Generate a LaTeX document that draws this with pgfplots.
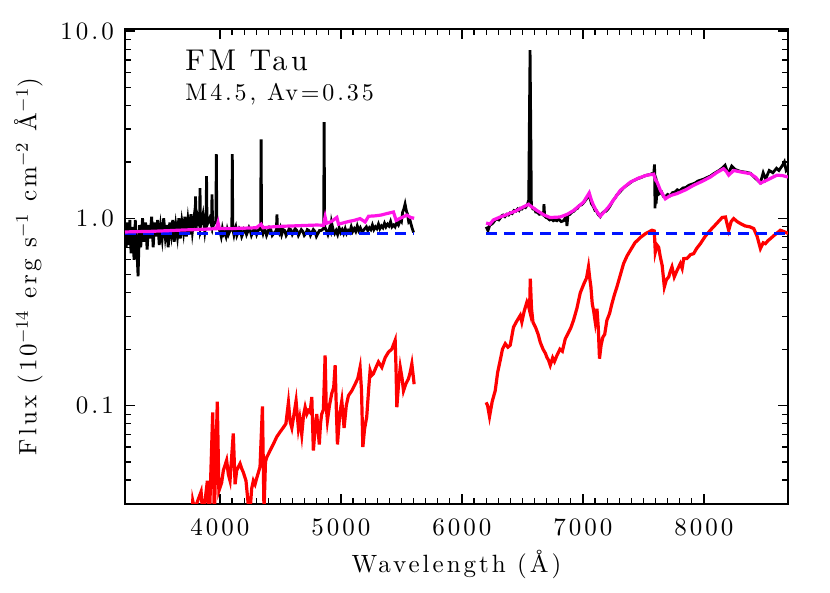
\documentclass[border=0pt]{standalone}
\usepackage{fontspec}
\setmainfont{lmroman10-regular.otf}[LetterSpace=12, BoldFont=lmroman10-bold.otf, ItalicFont=lmroman10-italic.otf]
\usepackage{pgfplots}
\pgfplotsset{compat=1.18}
\definecolor{mymag}{RGB}{255,20,230}
\definecolor{myblue}{RGB}{0,20,255}
\begin{document}
\begin{tikzpicture}
\begin{axis}[
  name=ax, scale only axis, width=331.5pt, height=237.5pt,
  xmin=3215, xmax=8695, ymode=log, ymin=0.0298, ymax=10.25,
  axis line style={line width=0.7pt}, every tick/.style={black, line width=0.6pt},
  tick align=inside, major tick length=5pt, minor tick length=3pt,
  xtick={4000,5000,6000,7000,8000}, xticklabels={4000,5000,6000,7000,8000},
  minor x tick num=9,
  ytick={0.1,1,10}, yticklabels={0.1,1.0,10.0},
  minor ytick={0.03,0.04,0.05,0.06,0.07,0.08,0.09,0.2,0.3,0.4,0.5,0.6,0.7,0.8,0.9,2,3,4,5,6,7,8,9},
  ticklabel style={font=\fontsize{12.5}{15}\selectfont},
  xticklabel style={yshift=-4pt},
  yticklabel style={xshift=-2pt},
  xlabel={Wavelength (Å)}, ylabel={Flux (10$^{-14}$ erg s$^{-1}$ cm$^{-2}$ Å$^{-1}$)},
  label style={font=\fontsize{12.5}{15}\selectfont},
  xlabel style={yshift=0pt},
  ylabel style={yshift=2pt},
]
% red photosphere, left
\addplot[red, line width=1.6pt] coordinates {
(3760,0.02) (3775,0.031) (3790,0.028) (3808,0.030) (3844,0.0347) (3860,0.025) (3896,0.0397) (3913,0.025)
(3940,0.092) (3953,0.025) (3978,0.105) (3991,0.035) (4014,0.0388) (4028,0.045) (4042,0.048) (4055,0.051)
(4069,0.043) (4083,0.0397) (4110,0.071) (4125,0.038) (4138,0.045) (4152,0.047) (4166,0.049) (4180,0.046) (4193,0.044)
(4215,0.0397) (4235,0.029) (4248,0.027) (4262,0.036) (4276,0.0397) (4290,0.038) (4304,0.041) (4318,0.044) (4331,0.047)
(4351,0.099) (4364,0.027) (4376,0.050) (4387,0.053) (4400,0.055) (4414,0.0575) (4440,0.062) (4469,0.068) (4495,0.072)
(4524,0.0764) (4545,0.080) (4566,0.104) (4580,0.082) (4594,0.076) (4606,0.085) (4629,0.106) (4648,0.076)
(4660,0.085) (4676,0.070) (4690,0.088) (4704,0.098) (4718,0.090) (4731,0.094) (4745,0.092) (4759,0.111)
(4772,0.0575) (4786,0.075) (4800,0.090) (4810,0.075) (4821,0.062) (4831,0.080) (4841,0.090) (4855,0.095)
(4869,0.185) (4878,0.100) (4888,0.083) (4905,0.100) (4924,0.116) (4940,0.125) (4952,0.164) (4961,0.100)
(4971,0.062) (4990,0.090) (5007,0.106) (5016,0.090) (5026,0.076) (5044,0.100) (5062,0.113) (5090,0.120)
(5117,0.130) (5140,0.140) (5158,0.160) (5170,0.120) (5181,0.060) (5195,0.075) (5213,0.087) (5228,0.120)
(5241,0.154) (5255,0.145) (5268,0.148) (5290,0.160) (5310,0.171) (5325,0.165) (5338,0.160) (5365,0.180)
(5393,0.193) (5420,0.200) (5448,0.223) (5455,0.160) (5462,0.098) (5476,0.130) (5490,0.160) (5505,0.140)
(5517,0.120) (5535,0.130) (5558,0.139) (5572,0.150) (5586,0.167) (5605,0.130)
};
% red photosphere, right
\addplot[red, line width=1.6pt] coordinates {
(6200,0.104) (6212,0.100) (6228,0.0873) (6250,0.105) (6275,0.120) (6295,0.150) (6316,0.174) (6335,0.200)
(6358,0.214) (6380,0.205) (6399,0.210) (6426,0.262) (6450,0.280) (6482,0.303) (6495,0.279) (6515,0.320)
(6537,0.357) (6550,0.340) (6559,0.322) (6565,0.476) (6575,0.330) (6587,0.279) (6610,0.260) (6630,0.240)
(6647,0.218) (6670,0.200) (6690,0.190) (6702,0.181) (6715,0.175) (6730,0.164) (6750,0.180) (6765,0.172)
(6785,0.185) (6810,0.200) (6830,0.195) (6854,0.227) (6880,0.245) (6900,0.260) (6922,0.285) (6950,0.330)
(6978,0.400) (7010,0.450) (7030,0.480) (7046,0.550) (7056,0.480) (7066,0.430) (7077,0.350) (7088,0.322)
(7102,0.279) (7116,0.329) (7127,0.260) (7137,0.178) (7150,0.210) (7165,0.232) (7180,0.240) (7198,0.285)
(7220,0.310) (7240,0.350) (7260,0.390) (7281,0.430) (7310,0.500) (7336,0.573) (7365,0.630) (7392,0.674)
(7430,0.740) (7475,0.790) (7520,0.830) (7571,0.863) (7590,0.855) (7598,0.660) (7612,0.720) (7626,0.700)
(7640,0.620) (7655,0.560) (7673,0.430) (7690,0.470) (7709,0.486) (7722,0.520) (7736,0.550) (7755,0.486)
(7780,0.530) (7805,0.573) (7820,0.540) (7833,0.609) (7860,0.610) (7890,0.640) (7915,0.647) (7940,0.690)
(7971,0.732) (8010,0.800) (8053,0.863) (8100,0.930) (8151,1.010) (8178,1.016) (8192,0.930) (8205,0.863)
(8225,0.960) (8246,0.996) (8275,0.960) (8302,0.937) (8340,0.910) (8380,0.900) (8412,0.881) (8440,0.800)
(8467,0.689) (8490,0.740) (8508,0.732) (8530,0.760) (8550,0.779) (8580,0.810) (8610,0.840) (8632,0.863)
(8660,0.850) (8695,0.830)
};
% observed spectrum, left
\addplot[black, line width=1.4pt] coordinates {
(3215,0.80) (3225,0.70) (3235,0.95) (3245,0.72) (3255,0.98) (3265,0.65) (3275,0.90) (3290,0.60) (3300,0.98)
(3310,0.75) (3323,0.49) (3335,0.92) (3345,0.70) (3360,1.00) (3372,0.75) (3385,0.95) (3398,0.68) (3410,0.92)
(3422,0.78) (3435,1.02) (3448,0.70) (3460,0.95) (3472,0.80) (3485,0.98) (3498,0.72) (3510,0.90) (3522,0.78)
(3535,1.00) (3548,0.80) (3560,0.92) (3572,0.70) (3585,0.95) (3598,0.82) (3610,0.98) (3622,0.75) (3635,0.92)
(3648,0.80) (3660,1.00) (3672,0.78) (3685,0.96) (3698,0.84) (3710,1.02) (3722,0.80) (3735,0.98) (3748,0.82)
(3760,1.05) (3772,0.85) (3785,1.00) (3794,0.90) (3798,1.31) (3802,0.88) (3815,1.02) (3831,0.92) (3835,1.45)
(3839,0.90) (3860,1.05) (3875,0.85) (3885,0.95) (3889,1.68) (3893,0.92) (3915,1.00) (3930,0.92) (3934,1.34)
(3940,0.90) (3955,0.95) (3966,0.95) (3970,2.2) (3974,0.95) (3985,0.90) (4000,0.85) (4010,0.80) (4020,0.88) (4030,0.82) (4040,0.84)
(4050,0.80) (4060,0.87) (4070,0.82) (4080,0.85) (4098,0.88) (4102,2.2) (4106,0.88) (4115,0.82) (4122,0.87) (4130,0.90) (4140,0.81) (4150,0.84) (4160,0.88) (4170,0.86)
(4180,0.80) (4190,0.83) (4200,0.88) (4210,0.87) (4220,0.82) (4230,0.85) (4240,0.89) (4250,0.86) (4260,0.81) (4270,0.84) (4280,0.87) (4290,0.88) (4303,0.82) (4315,0.86) (4336,0.88) (4340,2.64)
(4344,0.88) (4355,0.83) (4365,0.88) (4375,0.86) (4385,0.81) (4395,0.84) (4408,0.89) (4420,0.87) (4432,0.81) (4445,0.83) (4466,0.86) (4471,1.05) (4476,0.86)
(4490,0.83) (4500,0.88) (4510,0.82) (4522,0.87) (4535,0.86) (4547,0.81) (4560,0.84) (4572,0.88) (4585,0.87) (4598,0.82) (4610,0.85) (4622,0.88) (4635,0.86) (4648,0.81) (4660,0.84) (4672,0.87) (4685,0.85)
(4697,0.81) (4710,0.83) (4722,0.87) (4735,0.86) (4748,0.81) (4760,0.84) (4772,0.87) (4785,0.85) (4797,0.80) (4810,0.83) (4822,0.86) (4835,0.86) (4857,0.88) (4861,3.26) (4865,0.90)
(4880,0.86) (4892,0.82) (4905,0.88) (4915,0.85) (4922,0.95) (4935,0.87) (4948,0.83) (4960,0.86) (4972,0.82) (4985,0.89) (4997,0.84) (5010,0.87) (5022,0.83) (5035,0.88) (5047,0.83) (5060,0.86)
(5072,0.84) (5085,0.90) (5097,0.85) (5110,0.88) (5122,0.85) (5135,0.91) (5147,0.86) (5160,0.89) (5172,0.85) (5185,0.86) (5197,0.88) (5210,0.90) (5222,0.86) (5235,0.89) (5247,0.87) (5260,0.92) (5272,0.87) (5285,0.90)
(5297,0.88) (5310,0.93) (5322,0.88) (5335,0.91) (5347,0.89) (5360,0.94) (5372,0.90) (5385,0.93) (5397,0.91) (5410,0.96) (5422,0.90) (5435,0.92) (5447,0.90) (5460,0.95) (5475,0.92) (5490,0.98) (5500,0.96) (5510,1.08)
(5520,1.12) (5530,1.19) (5540,1.10) (5550,1.05) (5560,0.96) (5570,0.98) (5585,0.90) (5600,0.84)
};
% observed spectrum, right
\addplot[black, line width=1.4pt] coordinates {
(6200,0.90) (6215,0.86) (6230,0.92) (6245,0.93) (6260,0.95) (6275,0.98) (6290,0.99) (6305,0.98) (6316,1.00) (6328,1.03) (6340,1.04) (6355,1.02) (6370,1.05) (6385,1.04) (6399,1.07)
(6415,1.06) (6430,1.10) (6445,1.09) (6460,1.12) (6472,1.10) (6482,1.13) (6495,1.12) (6510,1.15) (6525,1.14) (6540,1.18) (6552,1.25) (6558,3.5) (6563,7.9) (6568,3.5)
(6574,1.16) (6587,1.12) (6600,1.12) (6610,1.08) (6620,1.08) (6640,1.05) (6660,1.06) (6674,1.04) (6678,1.19) (6683,1.04) (6695,1.01) (6710,1.00) (6725,0.98) (6740,0.99) (6755,0.97)
(6770,0.98) (6785,0.97) (6800,0.99) (6820,0.96) (6840,0.97) (6852,1.00) (6862,1.02) (6868,0.91) (6876,1.04) (6893,1.05) (6910,1.08) (6925,1.09) (6940,1.12) (6955,1.13) (6970,1.17) (6988,1.18)
(7005,1.21) (7022,1.25) (7040,1.30) (7052,1.33) (7070,1.20) (7088,1.15) (7100,1.10) (7110,1.10) (7125,1.05) (7143,1.02) (7157,1.06) (7170,1.08) (7190,1.09) (7212,1.13) (7230,1.18)
(7250,1.25) (7265,1.28) (7280,1.33) (7295,1.36) (7309,1.39) (7330,1.44) (7350,1.48) (7370,1.51) (7392,1.55) (7410,1.58) (7430,1.60) (7455,1.63) (7480,1.65) (7505,1.68) (7530,1.70) (7550,1.71) (7570,1.73)
(7585,1.72) (7592,1.94) (7596,1.13) (7600,1.50) (7605,1.20) (7615,1.50) (7630,1.35) (7650,1.38) (7665,1.31) (7681,1.30) (7700,1.34) (7720,1.32) (7740,1.37)
(7760,1.38) (7780,1.42) (7800,1.40) (7825,1.45) (7850,1.46) (7875,1.50) (7900,1.52) (7925,1.54) (7950,1.58) (7975,1.60) (8000,1.62) (8025,1.65) (8053,1.68) (8075,1.72) (8100,1.76) (8125,1.80)
(8150,1.85) (8175,1.92) (8190,1.80) (8205,1.75) (8230,1.90) (8260,1.82) (8280,1.80) (8300,1.78) (8325,1.77) (8350,1.76) (8384,1.74) (8400,1.70)
(8420,1.65) (8450,1.58) (8467,1.55) (8490,1.75) (8510,1.62) (8540,1.80) (8570,1.75) (8600,1.85) (8620,1.80)
(8650,1.92) (8665,2.00) (8680,1.80) (8695,1.85)
};
% continuum level
\addplot[myblue, line width=1.5pt, dash pattern=on 5.5pt off 3.5pt] coordinates {(3215,0.834) (5600,0.834)};
\addplot[myblue, line width=1.5pt, dash pattern=on 5.5pt off 3.5pt] coordinates {(6200,0.834) (8695,0.834)};
% model, left
\addplot[mymag, line width=1.6pt] coordinates {
(3215,0.845) (3300,0.848) (3400,0.850) (3500,0.855) (3600,0.860) (3700,0.866) (3800,0.870) (3900,0.876) (3970,0.880) (3984,0.950) (3995,0.880) (4050,0.882) (4100,0.880)
(4150,0.884) (4200,0.885) (4250,0.888) (4300,0.890) (4340,0.930) (4355,0.890) (4414,0.898) (4460,0.902) (4500,0.905) (4550,0.908) (4600,0.910) (4650,0.913) (4700,0.915) (4750,0.918)
(4800,0.920) (4855,0.918) (4869,1.016) (4880,0.940) (4920,0.960) (4966,1.010) (4980,0.930) (5020,0.945) (5060,0.960) (5110,0.975)
(5158,0.996) (5200,0.955) (5228,1.025) (5280,1.030) (5330,1.040) (5380,1.060) (5434,1.080) (5456,0.975) (5490,1.000) (5545,1.040)
(5575,1.010) (5605,1.000)
};
% model, right
\addplot[mymag, line width=1.6pt] coordinates {
(6200,0.944) (6230,0.930) (6260,0.980) (6316,1.016) (6360,1.040) (6399,1.067) (6440,1.090) (6482,1.127)
(6550,1.188) (6578,1.150) (6620,1.100) (6680,1.040) (6730,1.009) (6812,1.016) (6870,1.050) (6922,1.100)
(7005,1.220) (7052,1.366) (7070,1.250) (7088,1.170) (7110,1.100) (7143,1.025) (7175,1.080) (7212,1.150)
(7260,1.270) (7309,1.410) (7392,1.560) (7460,1.640) (7530,1.700) (7585,1.720) (7600,1.600) (7613,1.560)
(7640,1.410) (7681,1.270) (7720,1.320) (7778,1.355) (7850,1.420) (7915,1.500) (7990,1.580) (8053,1.660)
(8110,1.760) (8163,1.840) (8185,1.780) (8205,1.700) (8246,1.800) (8300,1.770) (8384,1.730) (8430,1.650)
(8467,1.540) (8522,1.600) (8605,1.700) (8650,1.690) (8695,1.660)
};
\node[anchor=base west, inner sep=0pt, font=\fontsize{15}{17}\selectfont] at (rel axis cs:0.0905,0.9116) {FM Tau};
\node[anchor=base west, inner sep=0pt, font=\fontsize{12}{14}\selectfont] at (rel axis cs:0.0905,0.8505) {M4.5, Av=0.35};
\end{axis}
\path ([shift={(-62.5pt,-44.5pt)}]ax.south west) rectangle ([shift={(21pt,14.5pt)}]ax.north east);
\end{tikzpicture}
\end{document}
